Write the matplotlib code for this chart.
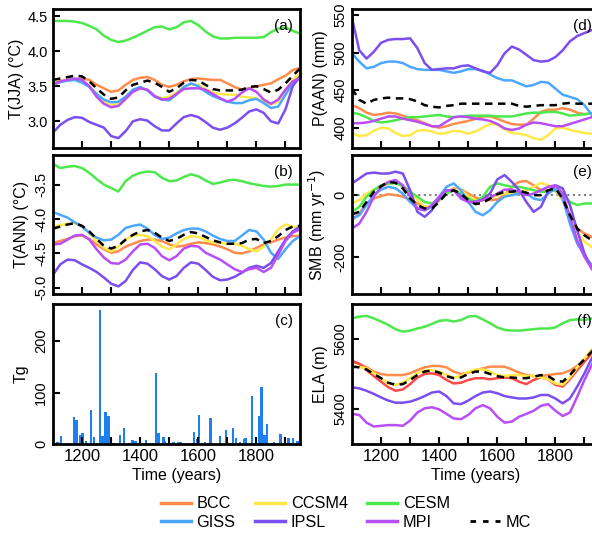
import numpy as np
import matplotlib
matplotlib.use("Agg")
import matplotlib.pyplot as plt
from matplotlib.lines import Line2D

plt.rcParams['font.family'] = ['Liberation Sans', 'DejaVu Sans']
plt.rcParams['font.size'] = 11.5
plt.rcParams['axes.unicode_minus'] = False

# --- données (pas de 25 ans) ---
years = np.arange(1100, 1951, 25)

jja_bcc = [3.52, 3.56, 3.59, 3.60, 3.61, 3.59, 3.52, 3.47, 3.42, 3.44, 3.52, 3.59, 3.62, 3.63, 3.59, 3.52, 3.49, 3.52,
           3.57, 3.60, 3.61, 3.60, 3.59, 3.59, 3.54, 3.49, 3.45, 3.47, 3.50, 3.52, 3.54, 3.60, 3.65, 3.73, 3.76]
jja_ccsm4 = [3.57, 3.58, 3.59, 3.59, 3.57, 3.50, 3.40, 3.28, 3.22, 3.26, 3.35, 3.45, 3.47, 3.45, 3.36, 3.33, 3.35, 3.41,
             3.49, 3.53, 3.52, 3.46, 3.41, 3.39, 3.38, 3.38, 3.35, 3.34, 3.33, 3.28, 3.24, 3.28, 3.44, 3.59, 3.69]
jja_cesm = [4.43, 4.43, 4.43, 4.42, 4.40, 4.36, 4.31, 4.22, 4.16, 4.13, 4.15, 4.19, 4.24, 4.29, 4.34, 4.35, 4.31, 4.34,
            4.41, 4.43, 4.37, 4.28, 4.21, 4.18, 4.18, 4.19, 4.19, 4.19, 4.19, 4.20, 4.27, 4.32, 4.34, 4.29, 4.25]
jja_giss = [3.52, 3.56, 3.58, 3.59, 3.55, 3.49, 3.39, 3.31, 3.27, 3.28, 3.35, 3.45, 3.49, 3.44, 3.35, 3.31, 3.30, 3.38,
            3.49, 3.54, 3.50, 3.42, 3.36, 3.32, 3.28, 3.26, 3.26, 3.30, 3.32, 3.26, 3.19, 3.21, 3.38, 3.54, 3.64]
jja_ipsl = [2.84, 2.95, 3.02, 3.06, 3.05, 2.99, 2.95, 2.91, 2.79, 2.76, 2.86, 3.00, 3.03, 3.01, 2.93, 2.87, 2.87, 2.97,
            3.06, 3.09, 3.06, 2.99, 2.91, 2.88, 2.91, 2.97, 3.05, 3.14, 3.17, 3.12, 3.00, 2.97, 3.17, 3.50, 3.64]
jja_mpi = [3.53, 3.57, 3.59, 3.61, 3.59, 3.50, 3.35, 3.25, 3.20, 3.22, 3.32, 3.42, 3.47, 3.45, 3.36, 3.31, 3.32, 3.39,
           3.46, 3.47, 3.47, 3.45, 3.39, 3.33, 3.28, 3.32, 3.41, 3.47, 3.42, 3.31, 3.25, 3.31, 3.45, 3.57, 3.61]
jja_mc = [3.59, 3.61, 3.63, 3.65, 3.64, 3.57, 3.47, 3.38, 3.32, 3.34, 3.44, 3.52, 3.55, 3.58, 3.55, 3.49, 3.42, 3.47,
          3.55, 3.59, 3.58, 3.52, 3.46, 3.44, 3.44, 3.44, 3.45, 3.49, 3.50, 3.46, 3.41, 3.45, 3.54, 3.65, 3.75]

ann_bcc = [-4.35, -4.32, -4.29, -4.25, -4.24, -4.29, -4.37, -4.44, -4.49, -4.47, -4.40, -4.36, -4.32, -4.30, -4.30,
           -4.32, -4.37, -4.40, -4.39, -4.36, -4.34, -4.35, -4.37, -4.40, -4.44, -4.49, -4.50, -4.47, -4.42, -4.37,
           -4.34, -4.30, -4.27, -4.25, -4.24]
ann_ccsm4 = [-4.11, -4.09, -4.07, -4.06, -4.10, -4.20, -4.32, -4.42, -4.47, -4.40, -4.30, -4.24, -4.23, -4.25, -4.32,
             -4.40, -4.44, -4.37, -4.29, -4.25, -4.26, -4.31, -4.34, -4.35, -4.36, -4.36, -4.39, -4.44, -4.47, -4.40,
             -4.30, -4.15, -4.08, -4.11, -4.13]
ann_cesm = [-3.20, -3.26, -3.24, -3.23, -3.26, -3.33, -3.42, -3.50, -3.55, -3.60, -3.45, -3.37, -3.33, -3.31, -3.32,
            -3.40, -3.45, -3.44, -3.39, -3.35, -3.38, -3.44, -3.49, -3.47, -3.44, -3.43, -3.45, -3.48, -3.50, -3.52,
            -3.53, -3.52, -3.50, -3.50, -3.50]
ann_giss = [-3.90, -3.94, -3.98, -4.05, -4.11, -4.20, -4.27, -4.31, -4.30, -4.23, -4.13, -4.10, -4.08, -4.14, -4.23,
            -4.29, -4.27, -4.21, -4.16, -4.14, -4.14, -4.18, -4.24, -4.29, -4.32, -4.32, -4.24, -4.16, -4.18, -4.30,
            -4.49, -4.58, -4.44, -4.32, -4.25]
ann_ipsl = [-4.81, -4.66, -4.59, -4.60, -4.66, -4.71, -4.77, -4.85, -4.94, -4.98, -4.90, -4.74, -4.63, -4.65, -4.73,
            -4.83, -4.88, -4.83, -4.71, -4.63, -4.65, -4.74, -4.84, -4.89, -4.88, -4.84, -4.78, -4.71, -4.68, -4.71,
            -4.64, -4.47, -4.30, -4.18, -4.11]
ann_mpi = [-4.37, -4.36, -4.30, -4.24, -4.23, -4.30, -4.44, -4.56, -4.64, -4.65, -4.59, -4.47, -4.37, -4.36, -4.42,
           -4.54, -4.60, -4.54, -4.43, -4.39, -4.40, -4.49, -4.54, -4.59, -4.66, -4.73, -4.77, -4.73, -4.71, -4.77,
           -4.71, -4.52, -4.32, -4.20, -4.15]
ann_mc = [-4.14, -4.11, -4.08, -4.06, -4.10, -4.18, -4.29, -4.39, -4.43, -4.39, -4.30, -4.23, -4.18, -4.16, -4.20,
          -4.27, -4.32, -4.29, -4.23, -4.19, -4.21, -4.26, -4.31, -4.34, -4.36, -4.36, -4.35, -4.30, -4.29, -4.35,
          -4.32, -4.25, -4.16, -4.11, -4.10]

# forçage volcanique (Tg)
volc_year = [1115, 1128, 1156, 1172, 1181, 1195, 1202, 1214, 1231, 1241, 1262, 1271, 1280, 1290, 1308, 1331, 1344,
             1359, 1373, 1383, 1399, 1420, 1454, 1464, 1480, 1485, 1514, 1531, 1539, 1585, 1597, 1603, 1623, 1643,
             1675, 1695, 1720, 1730, 1743, 1758, 1762, 1785, 1798, 1810, 1817, 1828, 1837, 1860, 1883, 1911, 1926,
             1942]
volc_tg = [4, 16, 2, 52, 46, 17, 22, 5, 67, 13, 260, 15, 63, 54, 2, 18, 31, 2, 8, 5, 4, 8, 138, 22, 14, 5, 4, 3, 3,
           24, 10, 56, 4, 51, 16, 28, 31, 12, 3, 10, 12, 93, 5, 54, 110, 17, 39, 4, 20, 11, 11, 5]

p_bcc = [430, 426, 420, 417, 418, 420, 419, 416, 412, 410, 406, 402, 400, 402, 405, 407, 409, 412, 415, 415, 412, 408,
         405, 404, 404, 412, 421, 424, 424, 426, 424, 420, 418, 419, 420]
p_ccsm4 = [392, 389, 390, 396, 400, 399, 393, 389, 390, 396, 397, 395, 392, 393, 396, 395, 392, 395, 400, 405, 404, 398,
           393, 392, 390, 386, 384, 390, 399, 400, 397, 395, 393, 392, 392]
p_cesm = [420, 418, 414, 409, 407, 408, 410, 412, 414, 414, 415, 416, 417, 415, 414, 415, 416, 416, 416, 416, 415, 415,
          415, 417, 419, 420, 420, 421, 421, 419, 416, 417, 418, 419, 419]
p_giss = [499, 488, 479, 481, 486, 488, 488, 486, 481, 478, 477, 477, 477, 475, 473, 475, 478, 478, 476, 471, 466, 463,
          463, 459, 455, 457, 461, 460, 452, 444, 441, 438, 430, 417, 405]
p_ipsl = [546, 503, 492, 501, 513, 517, 518, 518, 519, 506, 486, 477, 478, 479, 479, 482, 483, 479, 475, 473, 483, 499,
          508, 504, 497, 490, 488, 489, 494, 503, 515, 522, 526, 530, 532]
p_mpi = [406, 406, 407, 409, 412, 415, 415, 412, 410, 408, 405, 402, 402, 408, 414, 415, 414, 412, 411, 409, 405, 399,
         397, 399, 404, 407, 406, 404, 402, 402, 405, 408, 411, 414, 415]
p_mc = [452, 437, 432, 437, 439, 440, 439, 439, 438, 435, 430, 428, 427, 429, 430, 432, 432, 432, 432, 432, 432, 432,
        432, 429, 428, 429, 430, 430, 430, 432, 433, 432, 432, 432, 432]

smb_bcc = [-81, -59, -27, -11, -3, 3, 0, -5, -14, -27, -38, -38, -18, 8, 22, 18, 5, -8, -14, -16, -14, 0, 27, 43, 46,
           32, 16, 16, 16, -16, -65, -108, -124, -135, -150]
smb_ccsm4 = [-27, -16, 5, 18, 27, 38, 40, 29, 8, -16, -38, -38, -16, 8, 18, 16, -3, -16, -18, -11, 0, 5, 5, 11, 16,
             27, 40, 32, 16, -16, -70, -119, -151, -168, -180]
smb_cesm = [-54, -38, -5, 16, 32, 38, 38, 29, 11, -5, -22, -27, -14, 5, 16, 5, -11, -22, -5, 27, 38, 32, 27, 27, 22,
            16, 11, 11, 16, 5, -22, -32, -27, -27, -27]
smb_giss = [-76, -65, -32, 0, 18, 27, 22, 5, -22, -43, -49, -38, -5, 27, 38, 16, -22, -54, -65, -49, -22, -5, 0, 5, 5,
            -11, -16, 5, 22, -11, -92, -157, -195, -227, -250]
smb_ipsl = [38, 54, 70, 73, 70, 70, 76, 70, 16, -54, -70, -49, -11, 16, 16, -3, -22, -22, -14, 5, 51, 65, 43, 16, -22,
            -54, -38, 11, 32, 22, -32, -114, -189, -238, -270]
smb_mpi = [-108, -92, -54, -5, 27, 43, 49, 32, -5, -43, -49, -32, -5, 16, 16, -11, -22, -22, -16, -8, 5, 18, 18, 11, 0,
           5, 16, 27, 32, 5, -70, -146, -200, -238, -260]
smb_mc = [-62, -54, -22, 11, 29, 43, 40, 22, -11, -32, -43, -43, -22, 5, 16, 5, -16, -29, -25, -11, 3, 11, 11, 14, 8,
          0, 0, 16, 22, -11, -65, -108, -130, -146, -160]

ela_bcc = [5535, 5529, 5519, 5507, 5500, 5497, 5497, 5497, 5502, 5511, 5519, 5523, 5523, 5519, 5507, 5500, 5504, 5511,
           5516, 5521, 5521, 5521, 5513, 5504, 5497, 5494, 5494, 5497, 5500, 5502, 5510, 5523, 5540, 5564, 5585]
ela_red = [5538, 5529, 5511, 5494, 5478, 5462, 5452, 5456, 5471, 5490, 5500, 5502, 5497, 5483, 5473, 5475, 5483, 5488,
           5488, 5485, 5488, 5490, 5488, 5478, 5471, 5483, 5490, 5485, 5469, 5464, 5485, 5511, 5535, 5559, 5580]
ela_ccsm4 = [5523, 5520, 5516, 5502, 5488, 5473, 5469, 5475, 5488, 5502, 5510, 5511, 5507, 5497, 5490, 5494, 5507, 5513,
             5513, 5507, 5497, 5494, 5497, 5497, 5494, 5494, 5490, 5485, 5473, 5469, 5490, 5519, 5545, 5570, 5590]
ela_cesm = [5659, 5664, 5666, 5659, 5650, 5640, 5628, 5621, 5624, 5630, 5635, 5643, 5652, 5654, 5650, 5654, 5664, 5666,
            5656, 5645, 5633, 5626, 5624, 5624, 5626, 5628, 5630, 5630, 5633, 5645, 5654, 5656, 5654, 5659, 5660]
ela_ipsl = [5462, 5459, 5452, 5443, 5433, 5424, 5418, 5418, 5421, 5428, 5437, 5447, 5450, 5437, 5416, 5414, 5424, 5437,
            5447, 5450, 5445, 5437, 5433, 5430, 5430, 5433, 5440, 5440, 5430, 5416, 5430, 5464, 5502, 5545, 5575]
ela_mpi = [5386, 5383, 5361, 5350, 5352, 5354, 5354, 5352, 5367, 5390, 5402, 5405, 5399, 5386, 5373, 5371, 5383, 5402,
           5411, 5402, 5378, 5361, 5364, 5378, 5386, 5395, 5409, 5414, 5395, 5380, 5390, 5435, 5483, 5526, 5560]
ela_mc = [5521, 5519, 5513, 5500, 5488, 5475, 5469, 5471, 5483, 5497, 5507, 5510, 5504, 5494, 5488, 5490, 5500, 5507,
          5507, 5500, 5494, 5490, 5490, 5488, 5488, 5492, 5497, 5494, 5481, 5478, 5497, 5521, 5542, 5564, 5585]

colors = {"BCC": "#FF8C4C", "CCSM4": "#FFE84A", "CESM": "#4CE84C", "GISS": "#4DA6FF",
          "IPSL": "#7A4FEF", "MPI": "#B84FF5", "red": "#FF4A4A"}
lw = 1.8


def style(ax, yticks, ylim, rot, xlabels):
    ax.set_xlim(1100, 1950)
    ax.set_ylim(*ylim)
    ax.set_xticks([1200, 1400, 1600, 1800])
    ax.set_xticks([1300, 1500, 1700, 1900], minor=True)
    ax.set_yticks(yticks)
    ax.tick_params(which='both', direction='in', length=5, width=1.5, top=False, right=False)
    ax.tick_params(axis='x', labelsize=12)
    ax.tick_params(axis='y', labelsize=10.5)
    if rot:
        ax.tick_params(axis='y', labelrotation=90)
        for t in ax.get_yticklabels():
            t.set_va('center')
    if not xlabels:
        ax.set_xticklabels([])
    else:
        ax.set_xlabel("Time (years)", labelpad=3)
    for s in ax.spines.values():
        s.set_linewidth(2)


def plot_models(ax, series, mc):
    for name, vals in series:
        ax.plot(years, vals, color=colors[name], lw=lw)
    ax.plot(years, mc, color='black', lw=lw, ls=(0, (3, 2.2)))


fig = plt.figure(figsize=(5.92, 5.35), dpi=100)
W = 247 / 592
H = 139 / 535
left_x, right_x = 53 / 592, 352 / 592
rows_y = [(535 - 148) / 535, (535 - 294) / 535, (535 - 444) / 535]

# (a)
ax = fig.add_axes([left_x, rows_y[0], W, H])
plot_models(ax, [("BCC", jja_bcc), ("CCSM4", jja_ccsm4), ("CESM", jja_cesm), ("GISS", jja_giss),
                 ("IPSL", jja_ipsl), ("MPI", jja_mpi)], jja_mc)
style(ax, [3.0, 3.5, 4.0, 4.5], (2.62, 4.6), False, False)
ax.set_yticklabels(["3.0", "3.5", "4.0", "4.5"])
ax.set_ylabel("T(JJA) (°C)", labelpad=3)
ax.text(0.97, 0.93, "(a)", transform=ax.transAxes, ha='right', va='top', fontsize=11)

# (b)
ax = fig.add_axes([left_x, rows_y[1], W, H])
plot_models(ax, [("BCC", ann_bcc), ("CCSM4", ann_ccsm4), ("CESM", ann_cesm), ("GISS", ann_giss),
                 ("IPSL", ann_ipsl), ("MPI", ann_mpi)], ann_mc)
style(ax, [-5.0, -4.5, -4.0, -3.5], (-5.09, -3.07), True, False)
ax.set_yticklabels(["-5.0", "-4.5", "-4.0", "-3.5"])
ax.set_ylabel("T(ANN) (°C)")
ax.text(0.97, 0.93, "(b)", transform=ax.transAxes, ha='right', va='top', fontsize=11)

# (c)
ax = fig.add_axes([left_x, rows_y[2], W, 140 / 535])
ax.bar(volc_year, volc_tg, width=9, color="#1E80F0")
style(ax, [0, 100, 200], (0, 272), True, True)
ax.set_ylabel("Tg")
ax.text(0.97, 0.93, "(c)", transform=ax.transAxes, ha='right', va='top', fontsize=11)

# (d)
ax = fig.add_axes([right_x, rows_y[0], W, H])
plot_models(ax, [("BCC", p_bcc), ("CCSM4", p_ccsm4), ("CESM", p_cesm), ("GISS", p_giss),
                 ("IPSL", p_ipsl), ("MPI", p_mpi)], p_mc)
style(ax, [400, 450, 500, 550], (373, 558), True, False)
ax.set_ylabel("P(AAN) (mm)")
ax.text(0.97, 0.93, "(d)", transform=ax.transAxes, ha='right', va='top', fontsize=11)

# (e)
ax = fig.add_axes([right_x, rows_y[1], W, H])
ax.axhline(0, color='gray', ls=':', lw=1.5)
plot_models(ax, [("BCC", smb_bcc), ("CCSM4", smb_ccsm4), ("CESM", smb_cesm), ("GISS", smb_giss),
                 ("IPSL", smb_ipsl), ("MPI", smb_mpi)], smb_mc)
style(ax, [-200, 0], (-320, 130), True, False)
ax.set_ylabel("SMB (mm yr$^{-1}$)")
ax.text(0.97, 0.93, "(e)", transform=ax.transAxes, ha='right', va='top', fontsize=11)

# (f)
ax = fig.add_axes([right_x, rows_y[2], W, 140 / 535])
plot_models(ax, [("CESM", ela_cesm), ("BCC", ela_bcc), ("red", ela_red), ("CCSM4", ela_ccsm4),
                 ("IPSL", ela_ipsl), ("MPI", ela_mpi)], ela_mc)
style(ax, [5400, 5600], (5300, 5700), True, True)
ax.set_ylabel("ELA (m)")
ax.text(0.97, 0.93, "(f)", transform=ax.transAxes, ha='right', va='top', fontsize=11)

# légende commune
def h(c):
    return Line2D([], [], color=c, lw=2.5)

handles = [h(colors["BCC"]), h(colors["GISS"]), h(colors["CCSM4"]), h(colors["IPSL"]),
           h(colors["CESM"]), h(colors["MPI"]), Line2D([], [], color='none'),
           Line2D([], [], color='black', lw=2, ls=(0, (2, 2.5)))]
labels = ["BCC", "GISS", "CCSM4", "IPSL", "CESM", "MPI", "", "MC"]
fig.legend(handles, labels, ncol=4, loc='center', bbox_to_anchor=(0.584, 0.041), frameon=False,
           handlelength=1.85, handletextpad=0.35, columnspacing=1.2, labelspacing=0.2, fontsize=11.7)

fig.savefig("out.png", dpi=100)
